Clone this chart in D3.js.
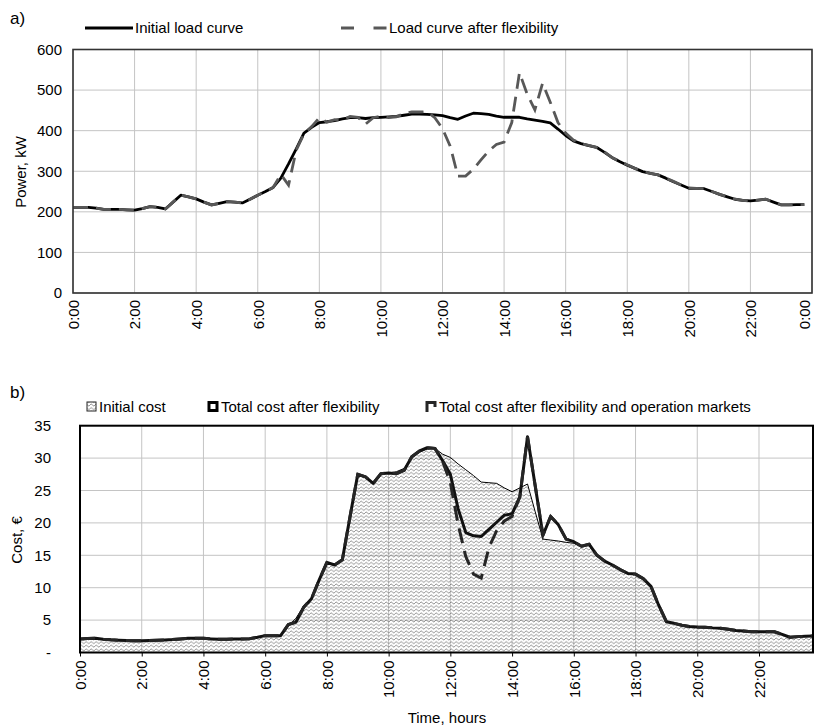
<!DOCTYPE html>
<html>
<head>
<meta charset="utf-8">
<script src="https://cdn.jsdelivr.net/npm/d3@7"></script>
<style>
  body { margin: 0; background: #fff; }
  svg { display: block; font-family: "Liberation Sans", Arial, sans-serif; }
  .tick text { font-size: 15px; fill: #000; }
</style>
</head>
<body>
<script>
// Quarter-hour load profile (kW) over one day
const loadInitial = [211,211,211,209, 206,206,206,205, 204,208,213,211, 207,224,241,237,
  232,224,217,221, 225,224,222,231, 241,250,260,283, 318,355,394,408,
  420,422,425,429, 432,432,430,432, 433,434,435,438, 441,441,440,439,
  437,432,428,436, 443,442,440,436, 433,433,433,429, 426,423,419,404,
  388,375,368,363, 359,347,334,324, 315,307,299,295, 291,283,274,266,
  258,258,257,250, 243,237,231,228, 227,229,231,224, 217,217,218,218];

const loadFlex = [211,211,211,209, 206,206,206,205, 204,208,213,211, 207,224,241,237,
  232,224,217,221, 225,224,222,231, 241,250,260,292, 266,352,392,410,
  432,421,427,426, 435,433,416,432, 436,432,434,442, 446,446,447,432,
  405,362,288,288, 305,328,350,366, 372,420,543,490, 451,517,470,420,
  394,377,368,364, 359,348,334,325, 316,307,300,295, 291,283,275,266,
  259,258,257,250, 243,237,231,228, 227,229,231,224, 217,217,218,218];

// Quarter-hour cost (EUR)
const costInitial = [2.1,2.15,2.2,2.05, 1.95,1.9,1.85,1.83, 1.82,1.85,1.88,1.93, 2.0,2.1,2.19,2.19,
  2.19,2.1,2.03,2.05, 2.08,2.1,2.14,2.35, 2.6,2.6,2.6,4.1, 5.3,7.2,8.3,11.2,
  13.9,13.5,14.3,21.0, 27.5,27.1,26.1,27.6, 27.7,27.9,28.4,30.2, 30.9,31.4,31.5,30.6,
  30.1,29.1,28.2,27.3, 26.3,26.2,26.1,25.4, 24.8,25.4,26.0,21.7, 17.5,17.35,17.2,17.0,
  16.85,16.4,16.7,15.0, 14.1,13.5,12.8,12.2, 12.1,11.4,10.2,7.3, 4.75,4.5,4.2,4.0,
  3.92,3.88,3.8,3.75, 3.6,3.4,3.3,3.22, 3.2,3.2,3.2,2.8, 2.35,2.45,2.5,2.55];

const costFlex = [2.1,2.15,2.2,2.05, 1.95,1.9,1.85,1.83, 1.82,1.85,1.88,1.93, 2.0,2.1,2.19,2.19,
  2.19,2.1,2.03,2.05, 2.08,2.1,2.14,2.35, 2.6,2.6,2.6,4.3, 4.7,7.0,8.3,11.2,
  13.9,13.5,14.3,21.0, 27.5,27.1,26.1,27.6, 27.7,27.6,28.1,30.2, 31.1,31.6,31.5,29.6,
  27.5,22.2,18.5,18.0, 17.9,19.0,20.1,21.2, 21.4,24.0,33.3,25.7, 18.1,21.0,19.7,17.5,
  17.1,16.4,16.7,15.0, 14.1,13.5,12.8,12.2, 12.1,11.4,10.2,7.3, 4.75,4.5,4.2,4.0,
  3.92,3.88,3.8,3.75, 3.6,3.4,3.3,3.22, 3.2,3.2,3.2,2.8, 2.35,2.45,2.5,2.55];

const costMarkets = [2.1,2.15,2.2,2.05, 1.95,1.9,1.85,1.83, 1.82,1.85,1.88,1.93, 2.0,2.1,2.19,2.19,
  2.19,2.1,2.03,2.05, 2.08,2.1,2.14,2.35, 2.6,2.6,2.6,4.3, 4.7,7.0,8.3,11.2,
  13.9,13.5,14.3,21.0, 27.5,27.1,26.1,27.6, 27.7,27.6,28.1,30.2, 31.1,31.6,31.5,29.5,
  26.2,19.8,14.8,12.1, 11.5,16.2,18.8,20.3, 21.0,24.0,33.3,25.7, 18.1,21.0,19.7,17.5,
  17.1,16.4,16.7,15.0, 14.1,13.5,12.8,12.2, 12.1,11.4,10.2,7.3, 4.75,4.5,4.2,4.0,
  3.92,3.88,3.8,3.75, 3.6,3.4,3.3,3.22, 3.2,3.2,3.2,2.8, 2.35,2.45,2.5,2.55];

const hourTicks = [0,2,4,6,8,10,12,14,16,18,20,22,24];
const hourLabels = ["0:00","2:00","4:00","6:00","8:00","10:00","12:00","14:00","16:00","18:00","20:00","22:00","0:00"];
const loadTicks = [0,100,200,300,400,500,600];
const costTicks = [0,5,10,15,20,25,30,35];
const costTickLabels = ["-","5","10","15","20","25","30","35"];

const hourOf = i => i / 4;

const svg = d3.select("body").append("svg").attr("width", 815).attr("height", 728);

// Fine wavy hatch used for the initial cost area
const defs = svg.append("defs");
const pat = defs.append("pattern").attr("id", "wave")
  .attr("patternUnits", "userSpaceOnUse").attr("width", 5).attr("height", 3.6);
pat.append("path").attr("d", "M0,1.8 C1.25,0.5 1.25,0.5 2.5,1.8 C3.75,3.1 3.75,3.1 5,1.8")
  .attr("fill", "none").attr("stroke", "#555").attr("stroke-width", 0.7);

/* ---------- a) Power ---------- */
const xTop = d3.scaleLinear().domain([0, 24]).range([73, 812]);
const yTop = d3.scaleLinear().domain([0, 600]).range([293, 49.5]);

const gTop = svg.append("g");
gTop.append("g").selectAll("line").data(hourTicks).join("line")
  .attr("x1", d => xTop(d)).attr("x2", d => xTop(d))
  .attr("y1", yTop(600)).attr("y2", yTop(0))
  .attr("stroke", "#c4c4c4").attr("stroke-width", 1);
gTop.append("g").selectAll("line").data(loadTicks).join("line")
  .attr("x1", xTop(0)).attr("x2", xTop(24))
  .attr("y1", d => yTop(d)).attr("y2", d => yTop(d))
  .attr("stroke", "#c4c4c4").attr("stroke-width", 1);

const lineTop = d3.line().x((d, i) => xTop(hourOf(i))).y(d => yTop(d));
gTop.append("path").datum(loadInitial).attr("d", lineTop)
  .attr("fill", "none").attr("stroke", "#000").attr("stroke-width", 2.8)
  .attr("stroke-linejoin", "round");
gTop.append("path").datum(loadFlex).attr("d", lineTop)
  .attr("fill", "none").attr("stroke", "#585858").attr("stroke-width", 2.8)
  .attr("stroke-dasharray", "15,8");

gTop.append("rect").attr("x", xTop(0)).attr("y", yTop(600))
  .attr("width", xTop(24) - xTop(0)).attr("height", yTop(0) - yTop(600))
  .attr("fill", "none").attr("stroke", "#333").attr("stroke-width", 1.6);

const axTopY = gTop.append("g").attr("transform", `translate(${xTop(0)},0)`)
  .call(d3.axisLeft(yTop).tickValues(loadTicks).tickSize(0).tickPadding(11));
axTopY.select(".domain").remove();

const axTopX = gTop.append("g").attr("transform", `translate(0,${yTop(0)})`)
  .call(d3.axisBottom(xTop).tickValues(hourTicks).tickSize(0)
    .tickFormat((d, i) => hourLabels[i]));
axTopX.select(".domain").remove();
axTopX.selectAll("text").attr("transform", "rotate(-90)")
  .attr("text-anchor", "end").attr("x", -7).attr("y", 0)
  .attr("dy", (d, i) => i === hourTicks.length - 1 ? "-0.15em" : "0.35em");

svg.append("text").attr("transform", "translate(26,172) rotate(-90)")
  .attr("text-anchor", "middle").attr("font-size", 15).text("Power, kW");
svg.append("text").attr("x", 10).attr("y", 24).attr("font-size", 17).text("a)");

// legend a)
svg.append("line").attr("x1", 85).attr("x2", 133).attr("y1", 28).attr("y2", 28)
  .attr("stroke", "#000").attr("stroke-width", 3);
svg.append("text").attr("x", 135).attr("y", 33).attr("font-size", 15).text("Initial load curve");
svg.append("line").attr("x1", 341).attr("x2", 387).attr("y1", 28).attr("y2", 28)
  .attr("stroke", "#585858").attr("stroke-width", 3).attr("stroke-dasharray", "13,19.5");
svg.append("text").attr("x", 389).attr("y", 33).attr("font-size", 15).text("Load curve after flexibility");

/* ---------- b) Cost ---------- */
const xBot = d3.scaleLinear().domain([0, 23.75]).range([80, 813]);
const yBot = d3.scaleLinear().domain([0, 35]).range([652.5, 425.7]);

const gBot = svg.append("g");
gBot.append("g").selectAll("line").data(hourTicks.filter(h => h <= 23.75)).join("line")
  .attr("x1", d => xBot(d)).attr("x2", d => xBot(d))
  .attr("y1", yBot(35)).attr("y2", yBot(0))
  .attr("stroke", "#c4c4c4").attr("stroke-width", 1);
gBot.append("g").selectAll("line").data(costTicks).join("line")
  .attr("x1", xBot(0)).attr("x2", xBot(23.75))
  .attr("y1", d => yBot(d)).attr("y2", d => yBot(d))
  .attr("stroke", "#c4c4c4").attr("stroke-width", 1);

const areaBot = d3.area().x((d, i) => xBot(hourOf(i))).y0(yBot(0)).y1(d => yBot(d));
const lineBot = d3.line().x((d, i) => xBot(hourOf(i))).y(d => yBot(d));

gBot.append("path").datum(costInitial).attr("d", areaBot).attr("fill", "url(#wave)");
gBot.append("path").datum(costInitial).attr("d", lineBot)
  .attr("fill", "none").attr("stroke", "#000").attr("stroke-width", 1);
gBot.append("path").datum(costFlex).attr("d", lineBot)
  .attr("fill", "none").attr("stroke", "#111").attr("stroke-width", 3)
  .attr("stroke-linejoin", "round");
gBot.append("path").datum(costMarkets).attr("d", lineBot)
  .attr("fill", "none").attr("stroke", "#262626").attr("stroke-width", 3)
  .attr("stroke-dasharray", "15,8");

gBot.append("rect").attr("x", xBot(0)).attr("y", yBot(35))
  .attr("width", xBot(23.75) - xBot(0)).attr("height", yBot(0) - yBot(35))
  .attr("fill", "none").attr("stroke", "#000").attr("stroke-width", 2);

const axBotY = gBot.append("g").attr("transform", `translate(${xBot(0)},0)`)
  .call(d3.axisLeft(yBot).tickValues(costTicks).tickSize(0).tickPadding(29)
    .tickFormat((d, i) => costTickLabels[i]));
axBotY.select(".domain").remove();

const axBotX = gBot.append("g").attr("transform", `translate(0,${yBot(0)})`)
  .call(d3.axisBottom(xBot).tickValues(hourTicks.filter(h => h <= 23.75)).tickSize(4)
    .tickFormat((d, i) => hourLabels[i]));
axBotX.select(".domain").remove();
axBotX.selectAll("line").attr("stroke", "#000");
axBotX.selectAll("text").attr("transform", "rotate(-90)")
  .attr("text-anchor", "end").attr("x", -8).attr("y", 0).attr("dy", "0.35em");

svg.append("text").attr("transform", "translate(22,540) rotate(-90)")
  .attr("text-anchor", "middle").attr("font-size", 15).text("Cost, €");
svg.append("text").attr("x", 447).attr("y", 723).attr("text-anchor", "middle")
  .attr("font-size", 15).text("Time, hours");
svg.append("text").attr("x", 10).attr("y", 398).attr("font-size", 17).text("b)");

// legend b)
svg.append("rect").attr("x", 87).attr("y", 402).attr("width", 9).attr("height", 9)
  .attr("fill", "url(#wave)").attr("stroke", "#222").attr("stroke-width", 1);
svg.append("text").attr("x", 99).attr("y", 412).attr("font-size", 15).text("Initial cost");
svg.append("rect").attr("x", 209).attr("y", 402.5).attr("width", 8).attr("height", 8)
  .attr("fill", "#fff").attr("stroke", "#000").attr("stroke-width", 3);
svg.append("text").attr("x", 221).attr("y", 412).attr("font-size", 15).text("Total cost after flexibility");
svg.append("path").attr("d", "M427,412 V402.5 H435 V407")
  .attr("fill", "none").attr("stroke", "#262626").attr("stroke-width", 3);
svg.append("text").attr("x", 439).attr("y", 412).attr("font-size", 15)
  .text("Total cost after flexibility and operation markets");
</script>
</body>
</html>
